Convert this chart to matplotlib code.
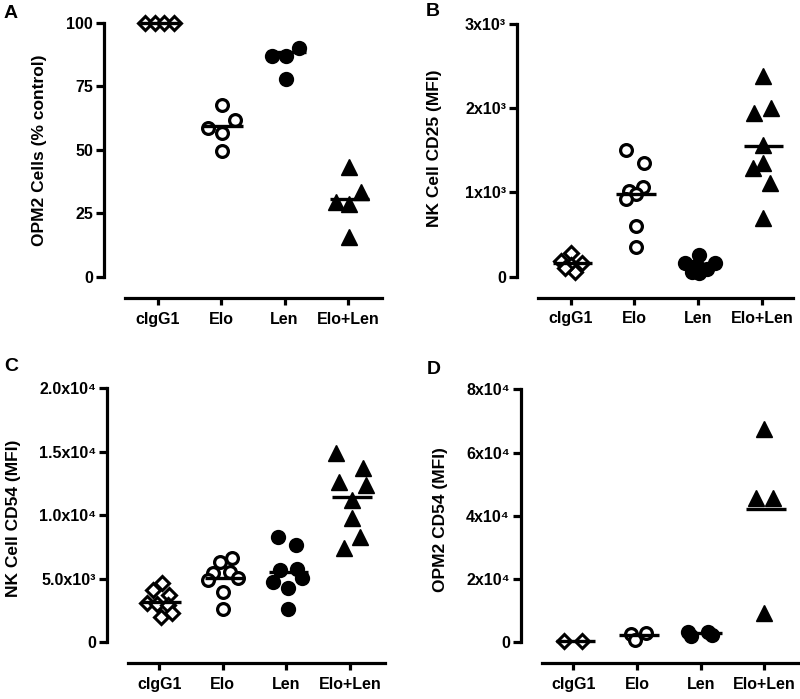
import numpy as np
import matplotlib.pyplot as plt

plt.rcParams['font.family'] = ['Liberation Sans', 'DejaVu Sans']
plt.rcParams['font.weight'] = 'bold'

groups = ['cIgG1', 'Elo', 'Len', 'Elo+Len']

# A: OPM2 cells (% control)
a_vals = [[100, 100, 100, 100],
          [67.7, 58.8, 56.8, 61.8, 49.7],
          [87.2, 87.0, 90.0, 78.0],
          [43.4, 33.6, 29.5, 28.7, 15.9]]
a_jit = [[-0.2, -0.05, 0.1, 0.25],
         [0.02, -0.21, 0.02, 0.21, 0.02],
         [-0.19, 0.02, 0.23, 0.02],
         [0.02, 0.21, -0.18, 0.02, 0.02]]
a_mean = [100, 59.4, 88.5, 30.7]
a_ticks = [0, 25, 50, 75, 100]
a_ticklabels = ['0', '25', '50', '75', '100']

# B: NK cell CD25 (MFI)
b_vals = [[285, 190, 139, 166, 59, 100],
          [1505, 1347, 1018, 1069, 979, 919, 602, 356],
          [258, 159, 159, 100, 60, 40, 90, 110],
          [2384, 1940, 2000, 1564, 1347, 1287, 1109, 694]]
b_jit = [[0.0, -0.15, 0.0, 0.18, 0.07, -0.09],
         [-0.13, 0.15, -0.08, 0.13, 0.03, -0.13, 0.02, 0.02],
         [0.01, -0.21, 0.26, 0.02, -0.1, 0.02, 0.14, -0.08],
         [0.02, -0.12, 0.14, 0.02, 0.02, -0.13, 0.13, 0.02]]
b_mean = [160, 979, 119, 1552]
b_ticks = [0, 1000, 2000, 3000]
b_ticklabels = ['0', '1x10³', '2x10³', '3x10³']

# C: NK cell CD54 (MFI)
c_vals = [[4650, 4100, 3700, 3100, 3050, 2950, 2000, 2300],
          [6350, 6600, 5450, 5550, 5050, 4900, 4000, 2600],
          [8300, 7650, 5700, 5750, 5050, 4750, 4250, 2600],
          [14900, 13700, 12650, 12400, 11200, 9750, 8300, 7400]]
c_jit = [[0.05, -0.1, 0.15, -0.19, -0.04, 0.14, 0.03, 0.2],
         [-0.04, 0.15, -0.15, 0.12, 0.24, -0.23, 0.01, 0.01],
         [-0.13, 0.15, -0.1, 0.16, 0.24, -0.21, 0.02, 0.02],
         [-0.22, 0.21, -0.18, 0.25, 0.03, 0.03, 0.16, -0.09]]
c_mean = [3150, 5092, 5512, 11470]
c_ticks = [0, 5000, 10000, 15000, 20000]
c_ticklabels = ['0', '5.0x10³', '1.0x10⁴', '1.5x10⁴', '2.0x10⁴']

# D: OPM2 CD54 (MFI)
d_vals = [[300, 300],
          [2600, 600, 2850],
          [3100, 2000, 3300, 2200],
          [67457, 45745, 45745, 9170]]
d_jit = [[-0.15, 0.14],
         [-0.09, -0.04, 0.14],
         [-0.2, -0.15, 0.12, 0.17],
         [0.0, -0.13, 0.14, 0.0]]
d_mean = [450, 2300, 2900, 42160]
d_ticks = [0, 20000, 40000, 60000, 80000]
d_ticklabels = ['0', '2x10⁴', '4x10⁴', '6x10⁴', '8x10⁴']

W, H = 800, 699
fig = plt.figure(figsize=(W / 100, H / 100), dpi=100)

# marker style per group
styles = [dict(marker='D', ms=6.8, mfc='white', mec='black', mew=2.2),
          dict(marker='o', ms=8.5, mfc='white', mec='black', mew=2.3),
          dict(marker='o', ms=9.5, mfc='black', mec='black', mew=1.5),
          dict(marker='^', ms=11, mfc='black', mec='black', mew=1)]


def panel(rect, vals, jit, means, ticks, ticklabels, xlim, ylabel, letter, lab_xy, let_xy):
    x0, y0, x1, y1 = rect  # pixel box of data area
    ax = fig.add_axes([x0 / W, 1 - y1 / H, (x1 - x0) / W, (y1 - y0) / H])
    for i, (v, j) in enumerate(zip(vals, jit)):
        ax.plot(i + np.array(j), v, ls='none', clip_on=False, zorder=2, **styles[i])
        ax.hlines(means[i], i - 0.28, i + 0.34, color='black', lw=2.4, zorder=3, clip_on=False)
    ax.set_xlim(*xlim)
    ax.set_ylim(ticks[0], ticks[-1])
    ax.spines['top'].set_visible(False)
    ax.spines['right'].set_visible(False)
    for s in ['left', 'bottom']:
        ax.spines[s].set_position(('outward', 15))
        ax.spines[s].set_linewidth(2.3)
    ax.spines['left'].set_bounds(ticks[0], ticks[-1])
    ax.set_yticks(ticks)
    ax.set_yticklabels(ticklabels)
    ax.set_xticks(range(4))
    ax.set_xticklabels(groups)
    ax.tick_params(axis='y', length=6, width=2.3, pad=2, labelsize=11.5)
    ax.tick_params(axis='x', length=5, width=2.3, pad=5, labelsize=11.5)
    ax.patch.set_visible(False)
    fig.text(lab_xy[0] / W, 1 - lab_xy[1] / H, ylabel, rotation=90, ha='center', va='center',
             fontsize=12.5, fontweight='bold')
    fig.text(let_xy[0] / W, 1 - let_xy[1] / H, letter, ha='left', va='top',
             fontsize=14, fontweight='bold')
    return ax


panel((125, 23, 382, 277), a_vals, a_jit, a_mean, a_ticks, a_ticklabels, (-0.52, 3.54),
      'OPM2 Cells (% control)', 'A', (40, 150), (4, 5))
panel((538, 24, 793, 276.7), b_vals, b_jit, b_mean, b_ticks, b_ticklabels, (-0.51, 3.49),
      'NK Cell CD25 (MFI)', 'B', (435, 148), (426, 3))
panel((128, 388.3, 385, 642.3), c_vals, c_jit, c_mean, c_ticks, c_ticklabels, (-0.49, 3.55),
      'NK Cell CD54 (MFI)', 'C', (14, 518), (4, 358))
panel((541.7, 389.3, 798, 642.3), d_vals, d_jit, d_mean, d_ticks, d_ticklabels, (-0.5, 3.53),
      'OPM2 CD54 (MFI)', 'D', (440, 520), (427, 361))

fig.savefig('out.png', dpi=100)
